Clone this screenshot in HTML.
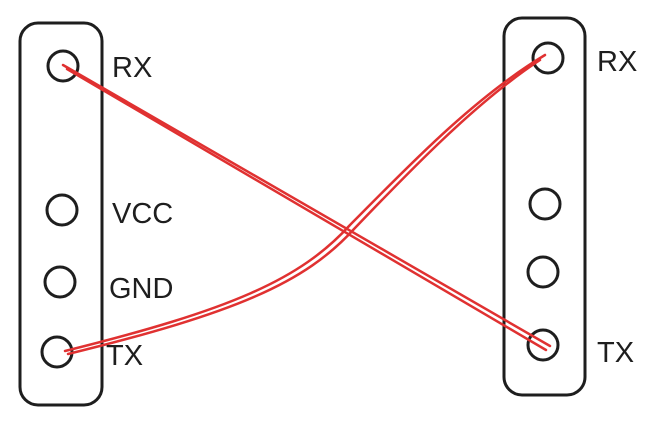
<!DOCTYPE html>
<html><head><meta charset="utf-8"><style>
html,body{margin:0;padding:0;background:#fff;}
svg{display:block}
text{font-family:"Liberation Sans",sans-serif;font-size:29px;fill:#1e1e1e;}
</style></head><body>
<svg width="672" height="426" viewBox="0 0 672 426" xmlns="http://www.w3.org/2000/svg">
<g fill="none" stroke="#1e1e1e" stroke-width="3" stroke-linecap="round">
<rect x="20" y="23" width="82" height="382" rx="18"/>
<rect x="504" y="18" width="81" height="377" rx="18"/>
<circle cx="63" cy="66" r="15"/>
<circle cx="62" cy="210" r="15"/>
<circle cx="60" cy="282" r="15"/>
<circle cx="57" cy="352" r="15"/>
<circle cx="548" cy="58" r="15"/>
<circle cx="545" cy="204" r="15"/>
<circle cx="543" cy="272" r="15"/>
<circle cx="543" cy="345" r="15"/>
</g>
<g fill="none" stroke="#e03131" stroke-width="2.5" stroke-linecap="round">
<path d="M63 65 L550 346"/>
<path d="M67 69 L546 350"/>
<path d="M65 351 C230 310 300 280 350 225 C400 175 470 100 545 55"/>
<path d="M68 354 C235 313 305 283 354 229 C403 178 473 104 540 60"/>
</g>
<text x="112" y="77">RX</text>
<text x="112" y="223">VCC</text>
<text x="109" y="298">GND</text>
<text x="106" y="365">TX</text>
<text x="597" y="71">RX</text>
<text x="597" y="362">TX</text>
</svg>
</body></html>
